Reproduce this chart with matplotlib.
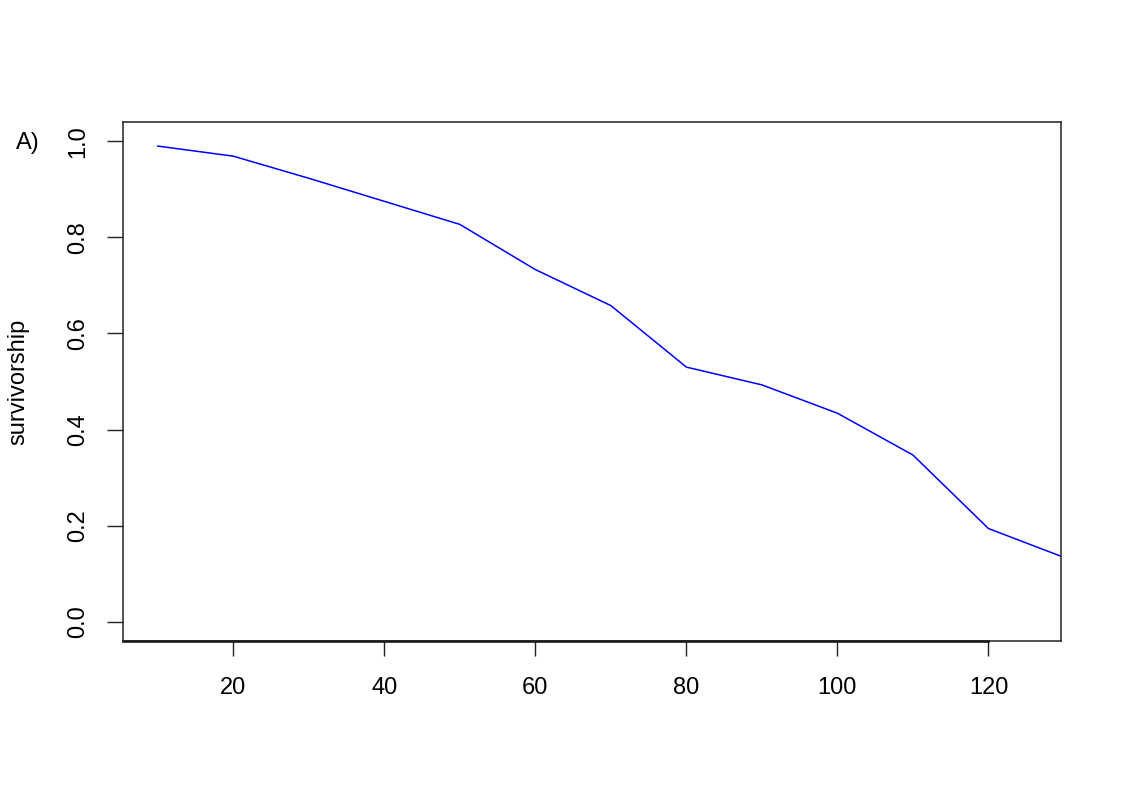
import matplotlib
matplotlib.use("Agg")
import matplotlib.pyplot as plt

age = [10, 20, 30, 40, 50, 60, 70, 80, 90, 100, 110, 120, 130, 140]
survivorship = [0.99, 0.969, 0.923, 0.875, 0.827, 0.733, 0.658, 0.530,
                0.493, 0.434, 0.347, 0.194, 0.134, 0.075]
x_ticks = [20, 40, 60, 80, 100, 120]
y_ticks = [0.0, 0.2, 0.4, 0.6, 0.8, 1.0]

plt.rcParams['font.family'] = ['Liberation Sans', 'DejaVu Sans']

fig = plt.figure(figsize=(11.25, 7.95), dpi=100)
ax = fig.add_axes([0.1093, 0.1937, 0.8338, 0.6528])

ax.plot(age, survivorship, color="#0000ff", linewidth=1.1)
ax.set_xlim(5.4, 129.6)
ax.set_ylim(-0.04, 1.04)

ax.set_xticks(x_ticks)
ax.set_xticklabels([str(t) for t in x_ticks])
ax.set_yticks(y_ticks)
ax.set_yticklabels([f"{t:.1f}" for t in y_ticks], rotation=90, va="center")

ax.tick_params(axis="x", length=11, width=1, pad=15, labelsize=17, color="#222222")
ax.tick_params(axis="y", length=11.5, width=1, pad=13, labelsize=17, color="#222222")

for s in ax.spines.values():
    s.set_linewidth(1.1)
    s.set_color("#222222")

# R draws the axis line over the box, from the left edge to the last tick
x0 = ax.get_xlim()[0]
ax.plot([x0, x_ticks[-1]], [ax.get_ylim()[0]] * 2, color="black",
        linewidth=1.8, clip_on=False)

ax.set_ylabel("survivorship", fontsize=17)
ax.yaxis.set_label_coords(-0.1003, 0.5)
fig.text(28 / 1125, 1 - 143 / 795, "A)", fontsize=17, ha="center", va="center")

fig.savefig("out.png", dpi=100)
